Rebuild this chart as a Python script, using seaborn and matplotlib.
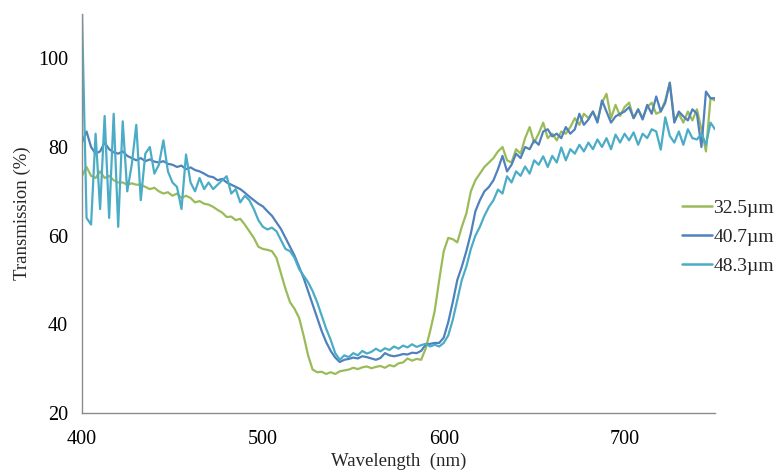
import numpy as np
import pandas as pd
import matplotlib
matplotlib.use("Agg")
import matplotlib.pyplot as plt
import seaborn as sns

# =========================================================
# DADOS (passo de 2.5 nm)
# =========================================================
wavelength = np.arange(400, 750.1, 2.5)

t_32_5 = [
    73.5, 75.5, 73.5, 73.0, 74.5, 73.0, 73.5, 72.5, 72.0, 72.0,   # 400
    71.5, 71.8, 71.5, 71.5, 71.0, 70.5, 70.8, 70.0, 69.5, 69.8,   # 425
    69.0, 69.5, 68.5, 69.0, 68.5, 67.5, 67.8, 67.2, 67.0, 66.5,   # 450
    65.8, 65.2, 64.2, 64.3, 63.5, 63.8, 62.5, 61.0, 59.5, 57.5,   # 475
    57.0, 56.8, 56.5, 55.0, 51.5, 48.0, 45.0, 43.5, 41.5, 37.5,   # 500
    33.0, 29.8, 29.2, 29.3, 28.8, 29.2, 28.8, 29.4, 29.6, 29.8,   # 525
    30.2, 29.9, 30.3, 30.5, 30.1, 30.4, 30.6, 30.2, 30.8, 30.5,   # 550
    31.2, 31.4, 32.3, 31.8, 32.2, 32.0, 34.5, 38.5, 43.0, 50.0,   # 575
    56.5, 59.5, 59.2, 58.5, 62.0, 65.0, 70.0, 72.5, 74.0, 75.5,   # 600
    76.5, 77.5, 79.0, 80.0, 77.0, 76.5, 79.5, 78.5, 82.0, 84.5,   # 625
    81.0, 83.0, 85.5, 82.0, 83.0, 81.5, 83.5, 83.0, 84.5, 86.5,   # 650
    85.0, 87.5, 86.5, 88.0, 86.0, 90.0, 92.0, 86.5, 89.5, 87.0,   # 675
    89.0, 90.0, 86.5, 88.5, 86.5, 89.0, 90.0, 87.5, 88.0, 90.5,   # 700
    94.5, 86.0, 87.5, 85.5, 88.0, 86.0, 88.5, 84.0, 79.0, 91.0,   # 725
    90.5,                                                         # 750
]

t_40_7 = [
    81.0, 83.5, 80.0, 78.5, 79.0, 81.0, 79.5, 78.8, 78.5, 79.0,   # 400
    78.0, 77.5, 77.0, 77.5, 76.8, 77.2, 76.7, 76.5, 76.8, 76.2,   # 425
    76.0, 75.5, 75.8, 75.0, 75.4, 74.8, 74.5, 74.0, 73.4, 73.2,   # 450
    72.5, 72.8, 72.0, 71.5, 71.0, 70.5, 69.7, 68.8, 68.0, 67.2,   # 475
    66.6, 65.5, 64.5, 63.0, 61.5, 59.5, 57.5, 55.5, 53.0, 50.5,   # 500
    47.5, 44.5, 41.5, 38.5, 36.0, 34.0, 32.5, 31.5, 32.0, 32.2,   # 525
    32.5, 32.3, 32.8, 32.6, 32.3, 32.0, 32.4, 33.5, 33.0, 32.8,   # 550
    33.0, 33.3, 33.2, 33.6, 33.5, 34.0, 35.4, 35.6, 35.8, 35.8,   # 575
    37.0, 40.5, 45.0, 50.0, 53.0, 56.5, 60.5, 65.5, 68.0, 70.0,   # 600
    71.0, 72.5, 75.0, 78.0, 74.5, 76.0, 78.5, 77.5, 80.0, 79.5,   # 625
    81.5, 80.5, 83.5, 84.0, 82.4, 83.0, 82.0, 84.5, 83.0, 84.0,   # 650
    87.5, 85.0, 86.2, 88.0, 85.5, 90.5, 88.0, 85.5, 86.9, 87.5,   # 675
    88.0, 89.0, 86.5, 88.5, 86.2, 89.5, 87.5, 91.4, 88.0, 90.0,   # 700
    94.5, 85.5, 88.0, 86.9, 86.0, 88.5, 87.5, 80.0, 92.5, 91.0,   # 725
    91.0,                                                         # 750
]

t_48_3 = [
    110.0, 64.0, 62.5, 83.0, 66.0, 87.0, 64.0, 87.5, 62.0, 85.8,  # 400
    70.0, 76.0, 85.0, 68.0, 78.5, 80.0, 74.0, 76.0, 81.5, 74.5,   # 425
    72.0, 71.0, 66.0, 78.3, 72.0, 70.0, 73.0, 70.5, 72.0, 70.5,   # 450
    71.5, 72.5, 73.4, 69.5, 70.5, 67.5, 69.0, 68.0, 66.0, 63.5,   # 475
    62.0, 61.4, 61.8, 61.0, 59.0, 57.0, 56.5, 55.0, 52.5, 51.0,   # 500
    49.5, 47.5, 45.0, 42.0, 39.0, 36.5, 33.5, 32.0, 33.0, 32.6,   # 525
    33.5, 33.0, 34.0, 33.4, 33.8, 34.5, 33.9, 34.6, 34.2, 35.0,   # 550
    34.5, 35.2, 34.8, 35.5, 34.9, 35.3, 35.6, 35.0, 35.4, 35.0,   # 575
    35.8, 37.5, 41.0, 45.5, 50.0, 53.0, 57.0, 60.0, 62.0, 64.5,   # 600
    66.5, 68.0, 70.4, 69.5, 73.4, 72.0, 74.5, 73.5, 75.6, 74.0,   # 625
    77.0, 76.0, 77.9, 75.5, 78.0, 76.5, 79.9, 77.0, 79.5, 78.5,   # 650
    80.5, 79.0, 81.0, 79.5, 81.7, 80.0, 82.0, 79.5, 82.8, 81.0,   # 675
    83.0, 81.5, 83.3, 80.5, 83.0, 82.0, 84.0, 83.5, 79.4, 86.7,   # 700
    82.5, 81.0, 83.5, 80.5, 84.0, 82.0, 81.7, 83.0, 80.5, 85.5,   # 725
    84.0,                                                         # 750
]

labels = ["32.5µm", "40.7µm", "48.3µm"]
cores = ["#9BBB59", "#4F81BD", "#4BACC6"]

df = pd.concat([
    pd.DataFrame({"Wavelength": wavelength, "Transmission": vals, "Amostra": lab})
    for vals, lab in zip([t_32_5, t_40_7, t_48_3], labels)
])

# =========================================================
# ESTILO
# =========================================================
sns.set_style("white")
plt.rcParams["font.family"] = ["Liberation Serif", "DejaVu Serif"]

fig = plt.figure(figsize=(7.76, 4.70), dpi=100)
ax = fig.add_axes([0.1057, 0.1213, 0.8157, 0.8489])

sns.lineplot(data=df, x="Wavelength", y="Transmission", hue="Amostra",
             palette=cores, linewidth=1.6, ax=ax, legend=False)

ax.set_xlim(400, 750)
ax.set_ylim(20, 110)
ax.set_xticks([400, 500, 600, 700])
ax.set_yticks([20, 40, 60, 80, 100])

for lado in ["top", "right"]:
    ax.spines[lado].set_visible(False)
for lado in ["left", "bottom"]:
    ax.spines[lado].set_color("#8c8c8c")
    ax.spines[lado].set_linewidth(1.0)

ax.tick_params(axis="both", direction="out", length=5, width=1.0, color="#8c8c8c",
               labelsize=14.5, labelcolor="black")
ax.tick_params(axis="x", pad=7)
ax.tick_params(axis="y", pad=5)

ax.set_xlabel("Wavelength  (nm)", fontsize=13.5, labelpad=3)
ax.set_ylabel("Transmission (%)", fontsize=13.5, labelpad=5)

handles = [plt.Line2D([], [], color=c, linewidth=1.8) for c in cores]
fig.legend(handles, labels, loc="center left", bbox_to_anchor=(0.879, 0.4957),
           frameon=False, fontsize=14, handlelength=1.55, handletextpad=0.05,
           labelspacing=0.6, borderaxespad=0, borderpad=0)

fig.savefig("out.png", dpi=100)
plt.close(fig)
